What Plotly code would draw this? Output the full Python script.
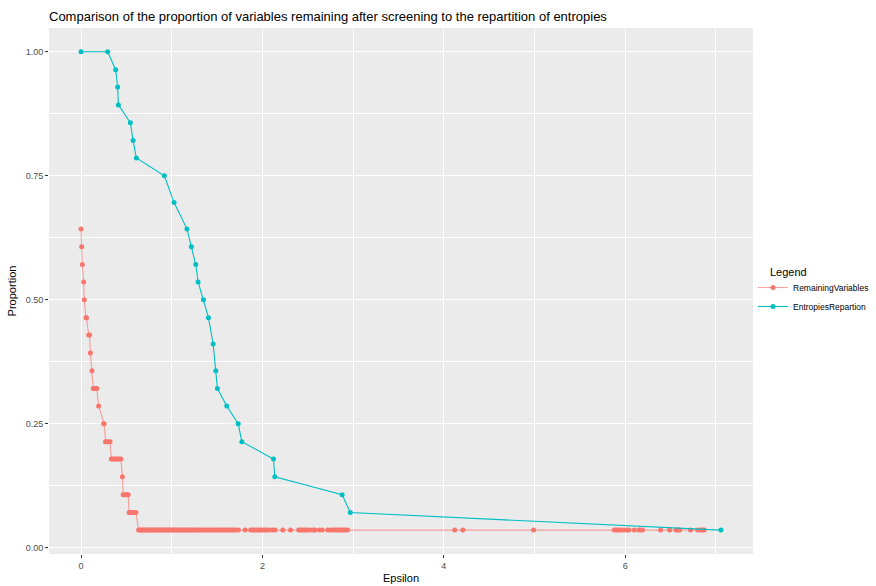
import plotly.graph_objects as go

# Remaining variables (proportion) vs epsilon
rem_x = [0.0, 0.007, 0.014, 0.029, 0.036, 0.055, 0.06, 0.085, 0.095, 0.103, 0.121,
         0.135, 0.15, 0.165, 0.175, 0.194, 0.25, 0.255,
         0.27, 0.285, 0.30, 0.32,
         0.335, 0.35, 0.365, 0.38, 0.395, 0.41, 0.425, 0.44,
         0.456,
         0.465, 0.48, 0.495, 0.51, 0.52,
         0.53, 0.545, 0.56, 0.575, 0.59, 0.605,
         0.635, 0.65, 0.66, 0.675, 0.69, 0.70, 0.715, 0.73, 0.745, 0.76, 0.77, 0.785,
         0.80, 0.815, 0.83, 0.845, 0.86, 0.875, 0.89, 0.905, 0.92, 0.935, 0.95, 0.965,
         0.98, 0.995, 1.01, 1.025, 1.04, 1.06, 1.075, 1.09, 1.105, 1.12, 1.14, 1.155,
         1.17, 1.19, 1.205, 1.22, 1.24, 1.26, 1.275, 1.29, 1.31, 1.33, 1.35, 1.37,
         1.39, 1.41, 1.43, 1.45, 1.47, 1.49, 1.51, 1.53, 1.55, 1.57, 1.59, 1.61,
         1.63, 1.65, 1.67, 1.69, 1.71, 1.735, 1.81,
         1.87, 1.89, 1.91, 1.93, 1.95, 1.97, 1.99, 2.01, 2.03, 2.05, 2.08, 2.11, 2.14,
         2.225, 2.31,
         2.40, 2.42, 2.44, 2.46, 2.48, 2.50, 2.53, 2.56, 2.58, 2.63, 2.66,
         2.72, 2.75, 2.78, 2.80, 2.82, 2.84, 2.86, 2.88, 2.90, 2.92, 2.94,
         4.12, 4.21, 4.99,
         5.88, 5.90, 5.92, 5.94, 5.96, 5.99, 6.02, 6.04, 6.10, 6.15, 6.17, 6.19,
         6.39, 6.49, 6.56, 6.58, 6.60, 6.72, 6.80, 6.83, 6.85, 6.87]
rem_y = ([0.643, 0.607, 0.571, 0.536, 0.5, 0.464, 0.464, 0.429, 0.429, 0.393, 0.357,
          0.321, 0.321, 0.321, 0.321, 0.286, 0.25, 0.25,
          0.214, 0.214, 0.214, 0.214,
          0.179, 0.179, 0.179, 0.179, 0.179, 0.179, 0.179, 0.179,
          0.143,
          0.107, 0.107, 0.107, 0.107, 0.107,
          0.071, 0.071, 0.071, 0.071, 0.071, 0.071])
rem_y = rem_y + [0.0357] * (len(rem_x) - len(rem_y))

# Entropies repartition
ent_x = [0.0, 0.294, 0.382, 0.404, 0.412, 0.544, 0.574, 0.610, 0.919, 1.026,
         1.168, 1.217, 1.265, 1.291, 1.350, 1.405, 1.457, 1.486, 1.504, 1.607,
         1.733, 1.773, 2.122, 2.137, 2.879, 2.969, 7.056]
ent_y = [1.0, 1.0, 0.964, 0.929, 0.893, 0.857, 0.821, 0.786, 0.75, 0.696,
         0.643, 0.607, 0.571, 0.536, 0.5, 0.464, 0.411, 0.357, 0.321, 0.286,
         0.25, 0.214, 0.179, 0.143, 0.107, 0.071, 0.0357]

RED = "#F8766D"
BLUE = "#00BFC4"

fig = go.Figure()
fig.add_trace(go.Scatter(x=rem_x, y=rem_y, mode="lines+markers", name="RemainingVariables",
                         line=dict(color="rgba(248,118,109,0.65)", width=1.1),
                         marker=dict(color=RED, size=5)))
fig.add_trace(go.Scatter(x=ent_x, y=ent_y, mode="lines+markers", name="EntropiesRepartion",
                         line=dict(color=BLUE, width=1.1),
                         marker=dict(color=BLUE, size=5)))

axis_common = dict(showgrid=True, gridcolor="white", gridwidth=1.1, zeroline=False,
                   showline=False, ticks="outside", ticklen=3, tickcolor="#333333",
                   automargin=False,
                   tickfont=dict(family="Liberation Sans", size=9, color="#4D4D4D"),
                   title_font=dict(family="Liberation Sans", size=11, color="black"))

fig.update_xaxes(range=[-0.353, 7.409], tickvals=[0, 2, 4, 6], title_text="Epsilon",
                 title_standoff=4,
                 minor=dict(tickvals=[1, 3, 5, 7], showgrid=True, gridcolor="white",
                            gridwidth=0.5, ticks=""),
                 **axis_common)
fig.update_yaxes(range=[-0.0125, 1.048], tickvals=[0, 0.25, 0.5, 0.75, 1.0],
                 ticktext=["0.00", "0.25", "0.50", "0.75", "1.00"], title_text="Proportion",
                 title_standoff=6,
                 minor=dict(tickvals=[0.125, 0.375, 0.625, 0.875], showgrid=True,
                            gridcolor="white", gridwidth=0.5, ticks=""),
                 **axis_common)

fig.add_annotation(text="Legend", xref="paper", yref="paper",
                   x=(768 - 49) / 704, y=(554 - 272) / 526, xanchor="left", yanchor="middle",
                   showarrow=False, font=dict(family="Liberation Sans", size=11, color="black"))

fig.update_layout(
    width=876, height=586,
    margin=dict(l=49, r=123, t=28, b=32, autoexpand=False),
    paper_bgcolor="white", plot_bgcolor="#EBEBEB",
    font=dict(family="Liberation Sans"),
    title=dict(text="Comparison of the proportion of variables remaining after screening to the repartition of entropies",
               x=49 / 876, xanchor="left", y=1 - 16 / 586, yanchor="middle",
               font=dict(family="Liberation Sans", size=13, color="black")),
    legend=dict(x=(753 - 49) / 704, xanchor="left", y=(554 - 273) / 526, yanchor="top",
                font=dict(size=8.5, color="black"), bgcolor="rgba(0,0,0,0)",
                tracegroupgap=0, itemwidth=30),
    showlegend=True,
)

fig.write_html("out.html", config={"displayModeBar": False},
               post_script="document.body.style.margin='0';document.body.style.overflow='hidden';")
